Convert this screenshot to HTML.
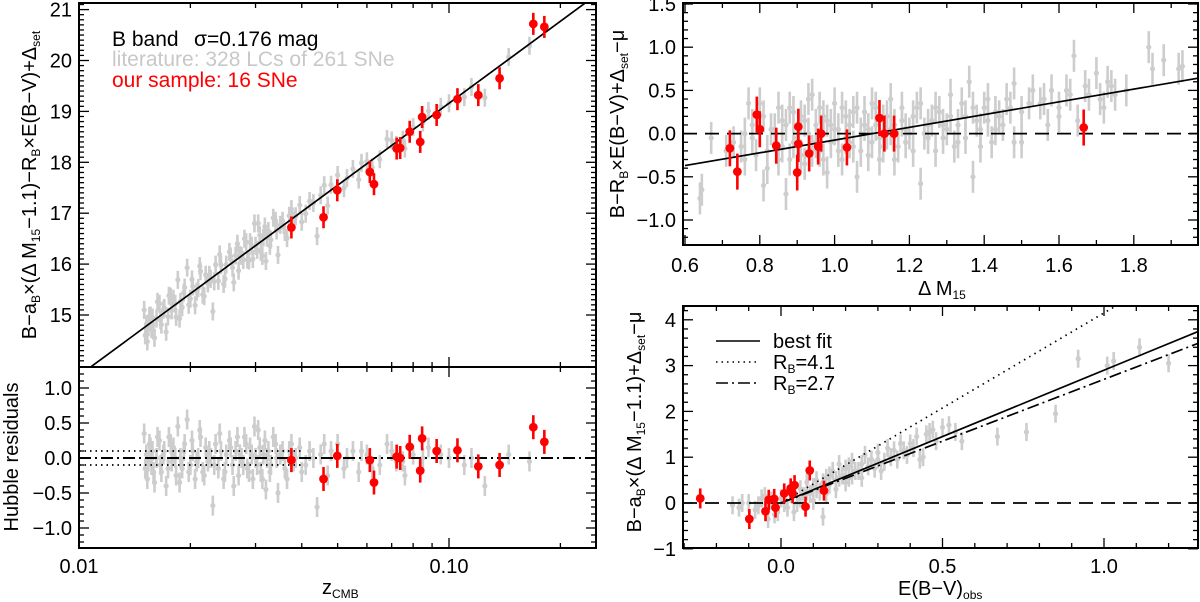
<!DOCTYPE html>
<html><head><meta charset="utf-8"><style>
html,body{margin:0;padding:0;background:#fff}
svg{display:block;font-family:"Liberation Sans",Arial,sans-serif}
</style></head><body>
<svg id="fig" width="1200" height="602" viewBox="0 0 1200 602" xmlns="http://www.w3.org/2000/svg">
<defs>
<clipPath id="cLT"><rect x="79" y="3" width="517" height="364"/></clipPath>
<clipPath id="cLB"><rect x="79" y="367" width="517" height="181"/></clipPath>
<clipPath id="cRT"><rect x="683" y="3" width="515" height="242"/></clipPath>
<clipPath id="cRB"><rect x="683" y="306" width="515" height="242"/></clipPath>
</defs>
<g id="layer"></g>
<g font-size="21">
<text x="112" y="46" fill="#000">B band</text>
<text x="194" y="46" fill="#000">σ=0.176 mag</text>
<text x="112" y="66" fill="#c8c8c8">literature: 328 LCs of 261 SNe</text>
<text x="112" y="87" fill="#ff0000">our sample: 16 SNe</text>
</g>
<text font-size="20" transform="translate(36,185) rotate(-90)" text-anchor="middle">B−a<tspan font-size="12" dy="4">B</tspan><tspan dy="-4">×(Δ M</tspan><tspan font-size="12" dy="4">15</tspan><tspan dy="-4">−1.1)−R</tspan><tspan font-size="12" dy="4">B</tspan><tspan dy="-4">×E(B−V)+Δ</tspan><tspan font-size="12" dy="4">set</tspan></text>
<text font-size="20" transform="translate(18,457) rotate(-90)" text-anchor="middle">Hubble residuals</text>
<text font-size="20" x="322" y="594">z<tspan font-size="12" dy="4">CMB</tspan></text>
<text font-size="20" transform="translate(624,124) rotate(-90)" text-anchor="middle">B−R<tspan font-size="12" dy="4">B</tspan><tspan dy="-4">×E(B−V)+Δ</tspan><tspan font-size="12" dy="4">set</tspan><tspan dy="-4">−μ</tspan></text>
<text font-size="20" x="918" y="295">Δ M<tspan font-size="12" dy="4">15</tspan></text>
<text font-size="20" transform="translate(641,422) rotate(-90)" text-anchor="middle">B−a<tspan font-size="12" dy="4">B</tspan><tspan dy="-4">×(Δ M</tspan><tspan font-size="12" dy="4">15</tspan><tspan dy="-4">−1.1)+Δ</tspan><tspan font-size="12" dy="4">set</tspan><tspan dy="-4">−μ</tspan></text>
<text font-size="20" x="898" y="595">E(B−V)<tspan font-size="12" dy="4">obs</tspan></text>
<g font-size="20">
<line x1="716" y1="341" x2="760" y2="341" stroke="#000" stroke-width="1.6"/>
<text x="773" y="348">best fit</text>
<line x1="716" y1="362" x2="760" y2="362" stroke="#000" stroke-width="1.6" stroke-dasharray="1.5,4"/>
<text x="773" y="369">R<tspan font-size="12" dy="4">B</tspan><tspan dy="-4">=4.1</tspan></text>
<line x1="716" y1="383" x2="760" y2="383" stroke="#000" stroke-width="1.6" stroke-dasharray="12,4,2,4"/>
<text x="773" y="390">R<tspan font-size="12" dy="4">B</tspan><tspan dy="-4">=2.7</tspan></text>
</g>
</svg>
<script>
// ---- Hubble diagram data ----
const grayZ=[0.0150,0.0151,0.0152,0.0153,0.0155,0.0157,0.0158,0.0160,0.0162,0.0165,0.0167,0.0170,0.0172,0.0175,0.0178,0.0180,0.0183,0.0185,0.0188,0.0190,0.0193,0.0196,0.0200,0.0203,0.0206,0.0210,0.0213,0.0216,0.0220,0.0223,0.0227,0.0230,0.0234,0.0238,0.0242,0.0246,0.0250,0.0255,0.0260,0.0265,0.0270,0.0275,0.0280,0.0285,0.0290,0.0295,0.0300,0.0305,0.0310,0.0315,0.0320,0.0325,0.0330,0.0340,0.0345,0.0350,0.0360,0.0370,0.0380,0.0395,0.0410,0.0430,0.0440,0.0460,0.0480,0.0520,0.0550,0.0570,0.0600,0.0650,0.0680,0.0720,0.0760,0.0800,0.0880,0.1000,0.1100,0.1250,0.1450,0.1650,
0.0154,0.0156,0.0159,0.0163,0.0166,0.0169,0.0174,0.0177,0.0182,0.0187,0.0192,0.0198,0.0202,0.0208,0.0212,0.0218,0.0225,0.0232,0.0240,0.0248,0.0257,0.0262,0.0268,0.0272,0.0278,0.0283,0.0288,0.0293,0.0298,0.0303,0.0308,0.0313,0.0318,0.0322,0.0328,0.0335,0.0342,0.0355,0.0365,0.0375,0.0385,0.0400,0.0420,0.0450,0.0470,0.0500,0.0530,0.0580,0.0620,0.0700,0.0750,0.0850,0.0950,0.1150];
const grayMag=[15.10,14.60,14.82,14.48,14.98,14.72,14.95,14.55,14.93,15.22,14.81,15.14,14.67,15.38,15.09,15.32,14.96,15.69,15.26,15.15,15.54,15.93,15.32,15.56,15.19,15.53,15.86,15.40,15.79,15.62,15.71,15.07,15.99,15.67,15.98,15.61,15.99,16.24,15.93,16.17,15.87,16.16,16.50,16.09,16.43,16.10,16.36,16.80,16.24,16.52,16.06,16.65,16.48,16.85,16.18,16.77,16.63,16.95,16.86,17.16,16.99,17.20,16.55,17.55,17.56,17.49,17.87,17.66,18.02,18.06,18.46,18.34,18.27,18.69,19.01,19.16,19.28,19.27,20.07,20.29,
14.76,14.99,14.69,15.26,14.90,15.10,14.97,15.36,15.22,14.93,15.44,15.20,15.70,15.46,15.96,15.37,15.79,15.66,16.19,15.71,16.15,15.64,16.40,16.18,16.08,16.43,16.07,16.36,16.80,16.28,16.57,16.16,16.74,16.52,16.36,16.91,16.66,16.85,16.51,17.08,16.94,16.83,17.24,17.35,17.15,17.75,17.69,17.99,17.90,18.43,18.44,18.78,19.09,19.48];
const grayRes=[0.35,-0.15,0.05,-0.3,0.2,-0.1,0.1,-0.35,0.0,0.25,-0.2,0.1,-0.4,0.3,-0.05,0.15,-0.25,0.45,0.0,-0.15,0.2,0.55,-0.1,0.1,-0.3,0.0,0.3,-0.2,0.15,-0.05,0.0,-0.68,0.2,-0.15,0.1,-0.3,0.05,0.25,-0.1,0.1,-0.25,0.0,0.3,-0.15,0.15,-0.3,0.0,0.4,-0.2,0.05,-0.45,0.1,-0.1,0.2,-0.5,0.05,-0.15,0.1,-0.05,0.15,-0.1,0.0,-0.7,0.2,0.1,-0.15,0.1,-0.2,0.05,-0.1,0.2,-0.05,-0.25,0.05,0.15,0.0,-0.1,-0.4,0.05,-0.05,
-0.05,0.15,-0.2,0.3,-0.1,0.05,-0.15,0.2,0.0,-0.35,0.1,-0.2,0.25,-0.05,0.4,-0.25,0.1,-0.1,0.35,-0.2,0.15,-0.4,0.3,0.05,-0.1,0.2,-0.2,0.05,0.45,-0.1,0.15,-0.3,0.25,0.0,-0.2,0.3,0.0,0.1,-0.3,0.2,0.0,-0.2,0.1,0.05,-0.25,0.2,0.0,0.1,-0.15,0.1,-0.05,0.0,0.05,0.0];
const redZ=[0.0375,0.0458,0.0499,0.0611,0.0627,0.0722,0.0738,0.0783,0.0836,0.0846,0.0926,0.1054,0.120,0.137,0.169,0.181];
const redMag=[16.72,16.92,17.45,17.81,17.57,18.27,18.28,18.60,18.40,18.89,18.93,19.24,19.32,19.65,20.72,20.66];
const redRes=[-0.03,-0.30,0.03,-0.03,-0.35,0.02,0.0,0.16,-0.18,0.28,0.10,0.11,-0.12,-0.10,0.44,0.23];
const hubbleFit=[5.35,24.51];
const yTicksLT=[15,16,17,18,19,20,21];
const yTicksLB=[-1.0,-0.5,0.0,0.5,1.0];
const xTicksL=[0.01,0.10];
// ---- Delta M15 data ----
const dmGrayX=[0.64,0.645,0.67,0.71,0.73,0.75,0.76,0.77,0.78,0.80,0.81,0.82,0.83,0.85,0.86,0.87,0.88,0.89,0.91,0.92,0.94,0.95,0.97,0.98,1.0,1.01,1.02,1.04,1.05,1.06,1.08,1.09,1.10,1.12,1.14,1.16,1.18,1.2,1.22,1.23,1.25,1.27,1.28,1.30,1.32,1.34,1.36,1.37,1.38,1.40,1.42,1.44,1.46,1.48,1.48,1.50,1.53,1.55,1.57,1.58,1.60,1.62,1.64,1.65,1.68,1.70,1.72,1.73,1.75,1.78,1.84,1.85,1.88,1.92,1.93,0.93,0.96,0.99,1.03,1.07,1.11,1.13,1.15,1.19,1.21,1.24,1.26,1.29,1.31,1.33,1.35,1.39,1.41,1.43,1.45,
0.76,0.78,0.79,0.81,0.82,0.84,0.85,0.86,0.87,0.88,0.89,0.90,0.91,0.92,0.93,0.94,0.95,0.96,0.97,0.98,0.99,1.0,1.01,1.02,1.03,1.04,1.05,1.06,1.07,1.08,1.09,1.10,1.11,1.12,1.13,1.14,1.15,1.16,1.17,1.18,1.19,1.21,1.23,1.25,1.27,1.29,1.31,1.33,1.35,1.37,1.39,1.41,1.43,1.47,1.50,1.52,1.56,1.60,1.63,1.67,1.71,1.74];
const dmGrayY=[-0.75,-0.65,-0.05,-0.2,-0.1,-0.15,0.0,0.35,-0.05,0.35,-0.6,-0.2,0.05,-0.3,0.15,-0.7,0.3,-0.1,0.2,-0.35,0.45,-0.1,0.2,-0.45,0.05,-0.2,0.3,-0.1,0.25,-0.5,0.1,-0.25,0.35,-0.05,0.2,-0.3,0.15,0.0,0.3,-0.58,0.1,-0.2,0.25,0.05,-0.15,0.35,0.6,-0.5,0.15,0.3,-0.1,0.2,0.4,-0.1,0.58,0.25,0.5,0.35,0.1,0.5,0.3,0.5,0.9,0.15,0.45,0.7,0.3,0.6,0.45,0.5,1.0,0.75,0.85,0.75,0.78,0.0,-0.2,0.1,-0.05,0.0,0.1,-0.15,0.05,-0.1,0.2,0.0,0.15,-0.05,0.2,0.1,-0.05,0.05,0.15,0.25,0.1,
-0.3,0.1,-0.25,0.2,-0.4,0.05,0.3,-0.15,0.1,-0.3,0.25,-0.05,-0.25,0.15,0.4,-0.2,0.1,0.3,-0.3,0.15,-0.1,0.35,0.05,-0.3,0.2,0.1,-0.15,0.3,-0.2,0.25,0.05,-0.1,0.3,-0.3,0.15,0.0,0.4,0.1,-0.15,0.3,0.05,-0.2,0.35,-0.05,0.3,0.1,0.45,-0.1,0.2,0.3,-0.15,0.4,0.05,0.3,-0.1,0.35,0.4,0.2,0.45,0.55,0.4,0.55];
const dmRedX=[0.72,0.74,0.792,0.80,0.844,0.903,0.903,0.90,0.932,0.956,0.964,1.033,1.12,1.133,1.159,1.666];
const dmRedY=[-0.17,-0.44,0.22,0.05,-0.14,0.08,-0.12,-0.45,-0.23,-0.15,0.0,-0.16,0.18,0.0,0.0,0.07];
const dmFit=[[0.6,-0.37],[1.97,0.64]];
const xTicksRT=[0.6,0.8,1.0,1.2,1.4,1.6,1.8];
const yTicksRT=[-1.0,-0.5,0.0,0.5,1.0,1.5];
// ---- E(B-V) data ----
const ebvGrayX=[-0.15,-0.13,-0.1,-0.08,-0.06,-0.04,-0.03,-0.01,0.0,0.02,0.03,0.05,0.06,0.07,0.08,0.09,0.1,0.11,0.12,0.13,0.14,0.15,0.16,0.17,0.18,0.19,0.2,0.21,0.22,0.23,0.25,0.26,0.28,0.3,0.32,0.33,0.35,0.37,0.39,0.4,0.42,0.44,0.46,0.48,0.52,0.56,0.67,0.76,0.85,0.92,1.01,1.03,1.11,1.2,
-0.12,-0.07,-0.05,-0.02,0.01,0.04,0.06,0.08,0.1,0.11,0.13,0.14,0.15,0.17,0.18,0.2,0.21,0.22,0.24,0.25,0.27,0.29,0.3,0.31,0.34,0.36,0.38,0.41,0.43,0.45,0.47,0.5,0.54];
const ebvGrayY=[-0.05,-0.1,0.0,-0.15,0.1,-0.35,0.05,-0.2,0.1,-0.1,0.2,0.0,0.3,0.15,0.45,0.2,0.35,0.5,0.25,-0.3,0.55,0.4,0.7,0.5,0.85,0.6,0.75,0.55,0.9,0.7,0.85,1.05,0.95,1.1,0.9,1.2,1.15,1.3,1.05,1.3,1.45,1.0,1.55,1.35,1.7,1.35,1.45,1.55,1.95,3.15,3.0,3.1,3.4,3.05,
0.0,-0.05,0.15,-0.25,0.0,-0.2,0.1,0.25,0.05,0.3,0.45,0.2,0.6,0.3,0.55,0.45,0.8,0.6,0.7,0.55,0.8,0.75,0.95,0.7,1.0,0.95,1.15,1.2,0.95,1.5,1.6,1.65,1.55];
const ebvRedX=[-0.25,-0.098,-0.048,-0.038,-0.021,-0.017,0.01,0.03,0.042,0.036,0.076,0.089,0.133];
const ebvRedY=[0.1,-0.35,-0.18,0.07,0.09,-0.1,0.21,0.32,0.39,0.21,-0.08,0.71,0.27];
const slopeBest=[2.9], slope41=[4.15], slope27=[2.7];
const xTicksRB=[0.0,0.5,1.0];
const yTicksRB=[-1,0,1,2,3,4];

const xL=z=>79+(Math.log10(z)+2)*370;
const yLT=m=>9.6+(21-m)*50.9;
const yLB=r=>458-r*70;
const xRT=d=>685+(d-0.6)*374;
const yRT=v=>133.6-v*86.4;
const xRB=e=>781+e*323;
const yRB=v=>503-v*45.8;

const NS='http://www.w3.org/2000/svg';
const layer=document.getElementById('layer');
function mk(tag,attrs,parent){const e=document.createElementNS(NS,tag);for(const k in attrs)e.setAttribute(k,attrs[k]);(parent||layer).appendChild(e);return e;}
function grp(name,clip){const g=mk('g',clip?{'clip-path':'url(#'+clip+')'}:{});


return g;}
function pts(g,xs,ys,xf,yf,err,color,r,w,name){for(let i=0;i<xs.length;i++){const cx=xf(xs[i]),cy=yf(ys[i]);
const l=mk('line',{x1:cx,x2:cx,y1:cy-err,y2:cy+err,stroke:color,'stroke-width':w},g);


const c=mk('circle',{cx:cx,cy:cy,r:r,fill:color},g);

}}
function line(g,x1,y1,x2,y2,dash,name,w){const l=mk('line',{x1:x1,y1:y1,x2:x2,y2:y2,stroke:'#000','stroke-width':w||1.7,'stroke-dasharray':dash||'none'},g);

}
function frame(x,y,w,h,name){const r=mk('rect',{x:x,y:y,width:w,height:h,fill:'none',stroke:'#000','stroke-width':2});

}
function yticks(g,x0,x1,vals,f,len){vals.forEach(v=>{const y=f(v);mk('line',{x1:x0,x2:x0+len,y1:y,y2:y,stroke:'#000','stroke-width':1.3},g);mk('line',{x1:x1,x2:x1-len,y1:y,y2:y,stroke:'#000','stroke-width':1.3},g);});}
function xticks(g,y0,y1,vals,f,len){vals.forEach(v=>{const x=f(v);mk('line',{x1:x,x2:x,y1:y0,y2:y0-len,stroke:'#000','stroke-width':1.3},g);mk('line',{x1:x,x2:x,y1:y1,y2:y1+len,stroke:'#000','stroke-width':1.3},g);});}
function range(a,b,s){const o=[];for(let v=a;v<=b+1e-9;v+=s)o.push(+v.toFixed(4));return o;}
function label(x,y,t,anchor,name){const e=mk('text',{x:x,y:y,'font-size':20,'text-anchor':anchor});e.textContent=t;

}
const fmt=v=>(v<0?'−':'')+Math.abs(v).toFixed(1);
const GC='#cdcdcd';

let g=grp('hubble-gray-points','cLT');
pts(g,grayZ,grayMag,xL,yLT,9,GC,2.6,2.6,'gray-sn');
g=grp('hubble-fit-line','cLT');
line(g,xL(0.0095),yLT(hubbleFit[0]*Math.log10(0.0095)+hubbleFit[1]),xL(0.26),yLT(hubbleFit[0]*Math.log10(0.26)+hubbleFit[1]),null,'hubble-fit-line');
g=grp('hubble-red-points','cLT');
pts(g,redZ,redMag,xL,yLT,11,'#ff0000',4.4,2.6,'red-sn');
g=grp('residual-gray-points','cLB');
pts(g,grayZ,grayRes,xL,yLB,10,GC,2.6,2.6,'gray-residual');
g=grp('residual-lines','cLB');
line(g,79,yLB(0),596,yLB(0),'12,4,2,4','zero-line',2);
line(g,79,yLB(0.1),xL(0.04),yLB(0.1),'1.5,4','plus-sigma-line');
line(g,79,yLB(-0.1),xL(0.04),yLB(-0.1),'1.5,4','minus-sigma-line');
g=grp('residual-red-points','cLB');
pts(g,redZ,redRes,xL,yLB,12,'#ff0000',4.4,2.6,'red-residual');
frame(79,3,517,364,'hubble-frame');frame(79,367,517,181,'residual-frame');
g=grp('hubble-ticks');
yticks(g,79,596,yTicksLT,yLT,10);
yticks(g,79,596,range(14.1,21.1,0.1).filter(v=>Math.abs(v-Math.round(v))>0.01),yLT,5);
yticks(g,79,596,yTicksLB,yLB,10);
yticks(g,79,596,range(-1.2,1.2,0.1).filter(v=>Math.abs(v*2-Math.round(v*2))>0.01),yLB,5);
const logMinor=[0.02,0.03,0.04,0.05,0.06,0.07,0.08,0.09,0.2];
[[3,367],[367,548]].forEach(p=>{xticks(g,p[1],p[0],xTicksL,xL,10);xticks(g,p[1],p[0],logMinor,xL,5);});
yTicksLT.forEach(v=>label(72,yLT(v)+7,String(v),'end','hubble-y-tick-label'));
yTicksLB.forEach(v=>label(72,yLB(v)+7,fmt(v),'end','residual-y-tick-label'));
xTicksL.forEach(v=>label(xL(v),573,v.toFixed(2),'middle','hubble-x-tick-label'));

g=grp('dm15-gray-points','cRT');
pts(g,dmGrayX,dmGrayY,xRT,yRT,16,GC,2.6,2.6,'gray-dm15');
g=grp('dm15-lines','cRT');
line(g,683,yRT(0),1198,yRT(0),'14,8','dm15-zero-line');
line(g,xRT(dmFit[0][0]),yRT(dmFit[0][1]),xRT(dmFit[1][0]),yRT(dmFit[1][1]),null,'dm15-fit-line');
g=grp('dm15-red-points','cRT');
pts(g,dmRedX,dmRedY,xRT,yRT,18,'#ff0000',4.4,2.6,'red-dm15');
frame(683,3,515,242,'dm15-frame');
g=grp('dm15-ticks');
yticks(g,683,1198,yTicksRT,yRT,10);
yticks(g,683,1198,range(-1.2,1.5,0.1).filter(v=>Math.abs(v*2-Math.round(v*2))>0.01),yRT,5);
xticks(g,245,3,xTicksRT,xRT,10);
xticks(g,245,3,range(0.7,1.9,0.2),xRT,5);
yTicksRT.forEach(v=>label(676,yRT(v)+7,fmt(v),'end','dm15-y-tick-label'));
xTicksRT.forEach(v=>label(xRT(v),272,v.toFixed(1),'middle','dm15-x-tick-label'));

g=grp('ebv-gray-points','cRB');
pts(g,ebvGrayX,ebvGrayY,xRB,yRB,9,GC,2.6,2.6,'gray-ebv');
g=grp('ebv-lines','cRB');
line(g,683,yRB(0),1198,yRB(0),'14,8','ebv-zero-line');
line(g,xRB(0),yRB(0),xRB(1.3),yRB(slope41[0]*1.3),'1.5,4.5','rb41-line');
line(g,xRB(0),yRB(0),xRB(1.3),yRB(slope27[0]*1.3),'12,4,2,4','rb27-line');
line(g,xRB(0),yRB(0),xRB(1.3),yRB(slopeBest[0]*1.3),null,'best-fit-line');
g=grp('ebv-red-points','cRB');
pts(g,ebvRedX,ebvRedY,xRB,yRB,10,'#ff0000',4.4,2.6,'red-ebv');
frame(683,306,515,242,'ebv-frame');
g=grp('ebv-ticks');
yticks(g,683,1198,yTicksRB,yRB,10);
yticks(g,683,1198,range(-1,4.2,0.2).filter(v=>Math.abs(v-Math.round(v))>0.01),yRB,5);
xticks(g,548,306,xTicksRB,xRB,10);
xticks(g,548,306,range(-0.3,1.2,0.1).filter(v=>Math.abs(v*2-Math.round(v*2))>0.01),xRB,5);
yTicksRB.forEach(v=>label(676,yRB(v)+7,(v<0?'−':'')+Math.abs(v),'end','ebv-y-tick-label'));
xTicksRB.forEach(v=>label(xRB(v),573,v.toFixed(1),'middle','ebv-x-tick-label'));
</script>
</body></html>
